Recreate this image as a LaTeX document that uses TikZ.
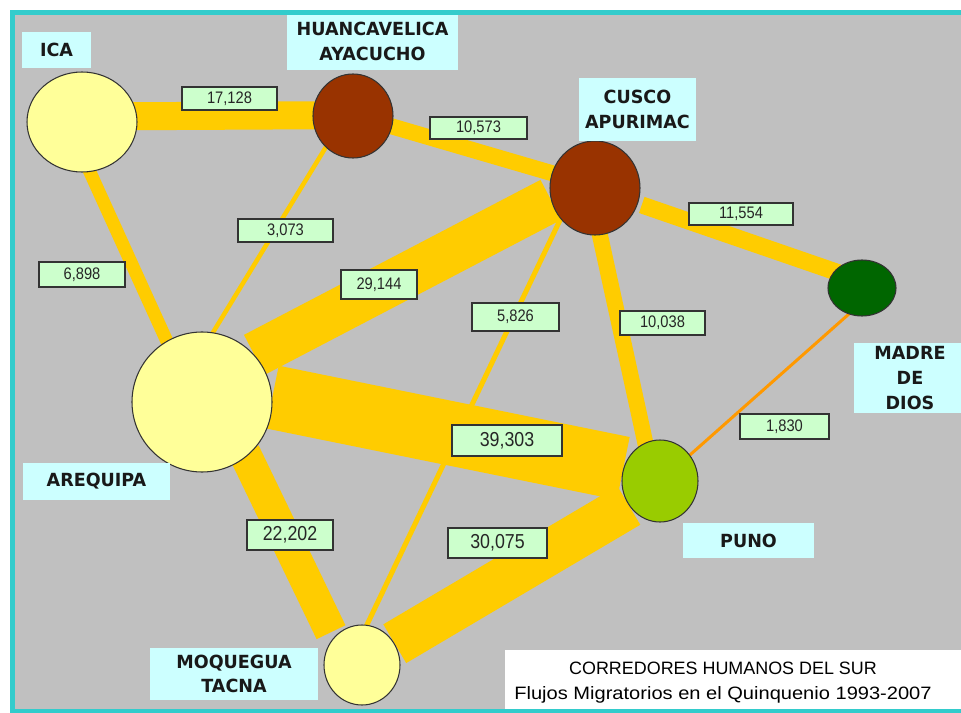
\documentclass[tikz,border=0pt]{standalone}
\usepackage{fontspec}
\usetikzlibrary{shapes.geometric}
\newfontfamily\lblfont[FakeStretch=0.97]{DejaVu Sans}
\newfontfamily\numfont[FakeStretch=0.88]{Liberation Sans}
\newfontfamily\ttlfont{Liberation Sans}
\newfontfamily\ttlwide[FakeStretch=1.12]{Liberation Sans}

\definecolor{bggray}{HTML}{C0C0C0}
\definecolor{framec}{HTML}{33CCCC}
\definecolor{flowc}{HTML}{FFCC00}
\definecolor{thinc}{HTML}{FF9900}
\definecolor{paleyel}{HTML}{FFFF99}
\definecolor{rust}{HTML}{993300}
\definecolor{dkgreen}{HTML}{006600}
\definecolor{lime}{HTML}{99CC00}
\definecolor{lblfill}{HTML}{CCFFFF}
\definecolor{valfill}{HTML}{CCFFCC}
\definecolor{edgec}{HTML}{333333}

\pgfdeclarelayer{flows}
\pgfsetlayers{flows,main}

\tikzset{
  flow/.style={draw=flowc, line width=#1*0.02cm},
  region/.style 2 args={ellipse, draw=edgec, line width=0.6pt, inner sep=0pt,
    minimum width=#1*0.02cm, minimum height=#2*0.02cm},
  rbox/.style 2 args={fill=lblfill, inner sep=0pt, align=center,
    minimum width=#1*0.02cm, minimum height=#2*0.02cm,
    font=\lblfont\bfseries\fontsize{10.3}{14}\selectfont, text=black!90},
  vbox/.style 2 args={draw=edgec, fill=valfill, line width=0.8pt, inner sep=0pt,
    minimum width=#1*0.02cm, minimum height=#2*0.02cm,
    font=\numfont\fontsize{9.5}{10}\selectfont, text=black!85},
  big/.style={font=\numfont\fontsize{11.5}{12}\selectfont}
}

\begin{document}
\begin{tikzpicture}[x=0.02cm, y=-0.02cm]
  \useasboundingbox (0,0) rectangle (961,713);
  \begin{pgfonlayer}{flows}
    \fill[white] (0,0) rectangle (961,713);
    \fill[bggray] (12,12) rectangle (961,711);
  \end{pgfonlayer}

  % regions
  \node[region={110}{100}, fill=paleyel] (ica) at (82,122) {};
  \node[region={80}{84}, fill=rust] (huanc) at (353,116) {};
  \node[region={90}{94}, fill=rust] (cusco) at (595,188) {};
  \node[region={68}{56}, fill=dkgreen] (madre) at (862,288) {};
  \node[region={140}{140}, fill=paleyel] (areq) at (202,402) {};
  \node[region={76}{82}, fill=lime] (puno) at (660,481) {};
  \node[region={76}{80}, fill=paleyel] (moq) at (362,665) {};

  % flows
  \begin{pgfonlayer}{flows}
    \draw[flow=28, shorten <=-0.12cm, shorten >=-0.12cm] (ica.6) -- (huanc.179);
    \draw[flow=16, shorten <=-0.08cm, shorten >=-0.08cm] (huanc.-15) -- (cusco.161);
    \draw[flow=17, shorten <=0.08cm, shorten >=-0.1cm] (cusco.-20) -- (madre.149);
    \draw[flow=13, shorten <=-0.08cm, shorten >=-0.08cm] (ica.-81) -- (areq.120);
    \draw[flow=4.5, shorten <=-0.04cm, shorten >=-0.04cm] (huanc.229) -- (areq.81);
    \draw[flow=45] (areq.42) -- (cusco.195);
    \draw[flow=5, shorten <=-0.04cm, shorten >=-0.04cm] (cusco.222) -- (moq.83);
    \draw[flow=16, shorten <=-0.08cm, shorten >=-0.08cm] (cusco.-84) -- (puno.111);
    \draw[flow=64] (areq.4) -- (puno.161);
    \draw[flow=32, shorten <=-0.1cm, shorten >=0.12cm] (areq.-51) -- (moq.136);
    \draw[flow=45] (moq.33) -- (puno.218);
    \draw[thinc, line width=3*0.02cm, shorten <=-0.04cm, shorten >=-0.04cm] (madre.243) -- (puno.41);
  \end{pgfonlayer}

  % names
  \node[rbox={69}{36}] (ica-lbl) at (56.5,50) {ICA};
  \node[rbox={171}{57}] (huanc-lbl) at (372.5,41.5) {HUANCAVELICA\\AYACUCHO};
  \node[rbox={117}{63}] (cusco-lbl) at (637.5,109.5) {CUSCO\\APURIMAC};
  \node[rbox={112}{70}] (madre-lbl) at (910,378) {MADRE\\DE\\DIOS};
  \node[rbox={147}{37}] (areq-lbl) at (96.5,481.5) {AREQUIPA};
  \node[rbox={131}{35}] (puno-lbl) at (748.5,540.5) {PUNO};
  \node[rbox={168}{52}] (moq-lbl) at (234,674) {MOQUEGUA\\TACNA};

  % values
  \node[vbox={95}{23}] (v-ica-huanc) at (229.5,98.5) {17,128};
  \node[vbox={97}{22}] (v-huanc-cusco) at (478.5,128) {10,573};
  \node[vbox={104}{22}] (v-cusco-madre) at (741,214) {11,554};
  \node[vbox={95}{23}] (v-huanc-areq) at (285.5,230.5) {3,073};
  \node[vbox={86}{25}] (v-ica-areq) at (82,274.5) {6,898};
  \node[vbox={76}{29}] (v-areq-cusco) at (379,284.5) {29,144};
  \node[vbox={87}{28}] (v-cusco-moq) at (515.5,317) {5,826};
  \node[vbox={85}{24}] (v-cusco-puno) at (662.5,323) {10,038};
  \node[vbox={110}{31}, big] (v-areq-puno) at (507,440.5) {39,303};
  \node[vbox={99}{30}, big] (v-moq-puno) at (497.5,543) {30,075};
  \node[vbox={86}{30}, big] (v-areq-moq) at (290,535) {22,202};
  \node[vbox={89}{25}] (v-madre-puno) at (784.5,426.5) {1,830};

  % title
  \fill[white] (505,650) rectangle (961,711);
  \node[align=center, font=\ttlfont\fontsize{10.2}{14.2}\selectfont] (title) at (723,683)
    {CORREDORES HUMANOS DEL SUR\\{\ttlwide Flujos Migratorios en el Quinquenio 1993-2007}};

  \draw[framec, line width=5*0.02cm] (12.5,12.5) rectangle (975,711);
\end{tikzpicture}
\end{document}
